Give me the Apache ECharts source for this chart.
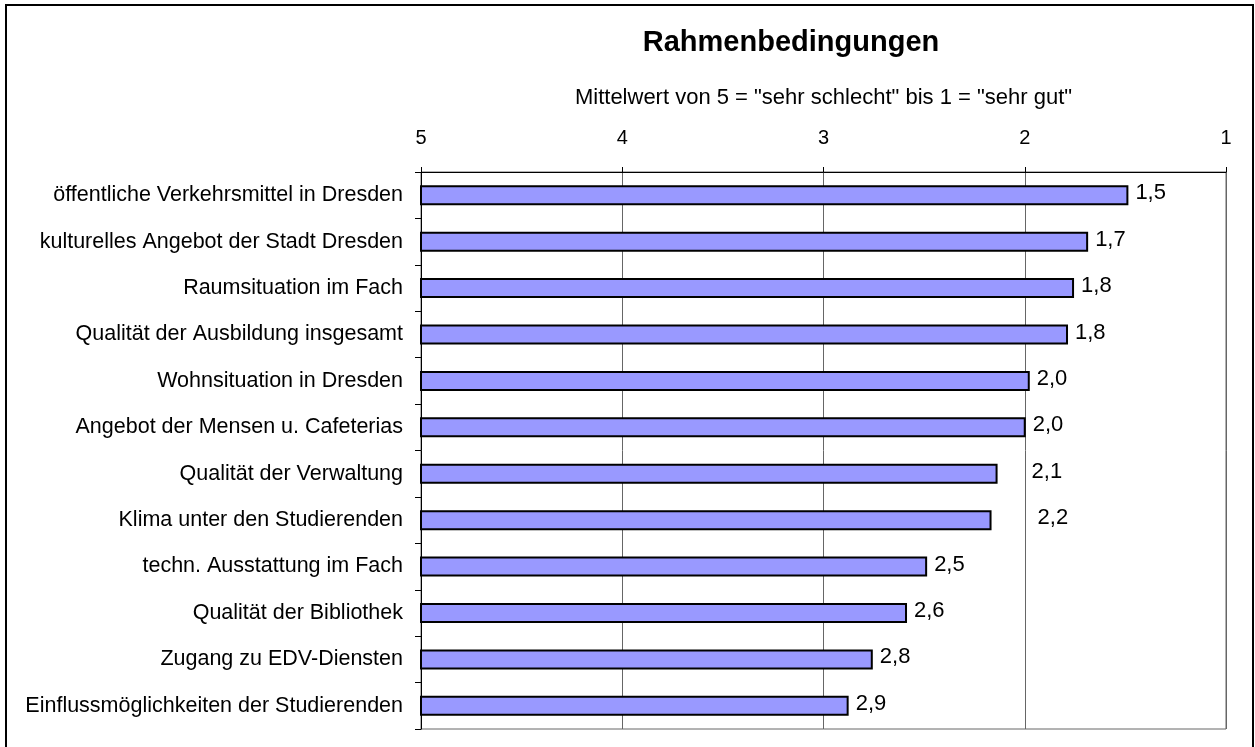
<!DOCTYPE html>
<html>
<head>
<meta charset="utf-8">
<script src="https://cdn.jsdelivr.net/npm/echarts@6/dist/echarts.min.js"></script>
<style>
html,body{margin:0;padding:0;background:#fff;}
#chart{width:1255px;height:747px;}
</style>
</head>
<body>
<div id="chart"></div>
<script>
const chartTitle = 'Rahmenbedingungen';
const axisTitle = 'Mittelwert von 5 = "sehr schlecht" bis 1 = "sehr gut"';
const categories = [
  'öffentliche Verkehrsmittel in Dresden',
  'kulturelles Angebot der Stadt Dresden',
  'Raumsituation im Fach',
  'Qualität der Ausbildung insgesamt',
  'Wohnsituation in Dresden',
  'Angebot der Mensen u. Cafeterias',
  'Qualität der Verwaltung',
  'Klima unter den Studierenden',
  'techn. Ausstattung im Fach',
  'Qualität der Bibliothek',
  'Zugang zu EDV-Diensten',
  'Einflussmöglichkeiten der Studierenden'
];
const meanValues = [1.49, 1.69, 1.76, 1.79, 1.98, 2.0, 2.14, 2.17, 2.49, 2.59, 2.76, 2.88];
const axisMin = 1;
const axisMax = 5;
const axisStep = 1;

// styling: extra horizontal shift of some value labels (as placed in the original)
const labelShift = [0, 0, 0, 0, 0, 0, 27, 39, 0, 0, 0, 0];

const FONT = '"Liberation Sans", Arial, sans-serif';
const chart = echarts.init(document.getElementById('chart'), null, {renderer: 'canvas'});

const option = {
  backgroundColor: '#ffffff',
  animation: false,
  graphic: [
    {type: 'rect', shape: {x: 6, y: 5, width: 1247, height: 760}, style: {fill: 'none', stroke: '#000', lineWidth: 2}, z: 100},
    {type: 'text', x: 791, y: 43, style: {text: chartTitle, textAlign: 'center', textVerticalAlign: 'middle', font: 'bold 29px ' + FONT, fill: '#000'}}
  ],
  grid: {left: 421, right: 29, top: 172, bottom: 18, show: true, borderColor: '#666', borderWidth: 1, containLabel: false},
  xAxis: {
    type: 'value', position: 'top', inverse: true,
    min: axisMin, max: axisMax, interval: axisStep,
    name: axisTitle, nameLocation: 'middle', nameGap: 63,
    nameTextStyle: {fontFamily: FONT, fontSize: 22, color: '#000'},
    axisLine: {show: true, lineStyle: {color: '#000', width: 1}},
    axisTick: {show: true, length: 5, lineStyle: {color: '#000'}},
    axisLabel: {fontFamily: FONT, fontSize: 20, color: '#000', margin: 24,
      formatter: v => String(v)},
    splitLine: {show: true, lineStyle: {color: '#666', width: 1}}
  },
  yAxis: {
    type: 'category', inverse: true, data: categories,
    axisLine: {show: true, lineStyle: {color: '#000', width: 1}},
    axisTick: {show: true, length: 6, lineStyle: {color: '#000'}},
    axisLabel: {fontFamily: FONT, fontSize: 21.5, color: '#000', margin: 18},
    splitLine: {show: false}
  },
  series: [{
    type: 'custom',
    clip: false,
    encode: {x: 0, y: 1},
    data: meanValues.map((v, i) => [v, i]),
    renderItem: function (params, api) {
      const v = api.value(0);
      const ci = api.value(1);
      const end = api.coord([v, ci]);
      const start = api.coord([axisMax, ci]);
      const bw = 18;
      const txt = api.value(0).toFixed(1).replace('.', ',');
      return {
        type: 'group',
        children: [
          {type: 'rect', shape: {x: start[0], y: end[1] - bw / 2, width: end[0] - start[0], height: bw},
           style: {fill: '#9999FF', stroke: '#000', lineWidth: 2}},
          {type: 'text', x: end[0] + 8 + labelShift[params.dataIndex], y: end[1] - 2,
           style: {text: txt, textAlign: 'left', textVerticalAlign: 'middle', font: '22px ' + FONT, fill: '#000'}}
        ]
      };
    }
  }]
};
chart.setOption(option);
</script>
</body>
</html>
